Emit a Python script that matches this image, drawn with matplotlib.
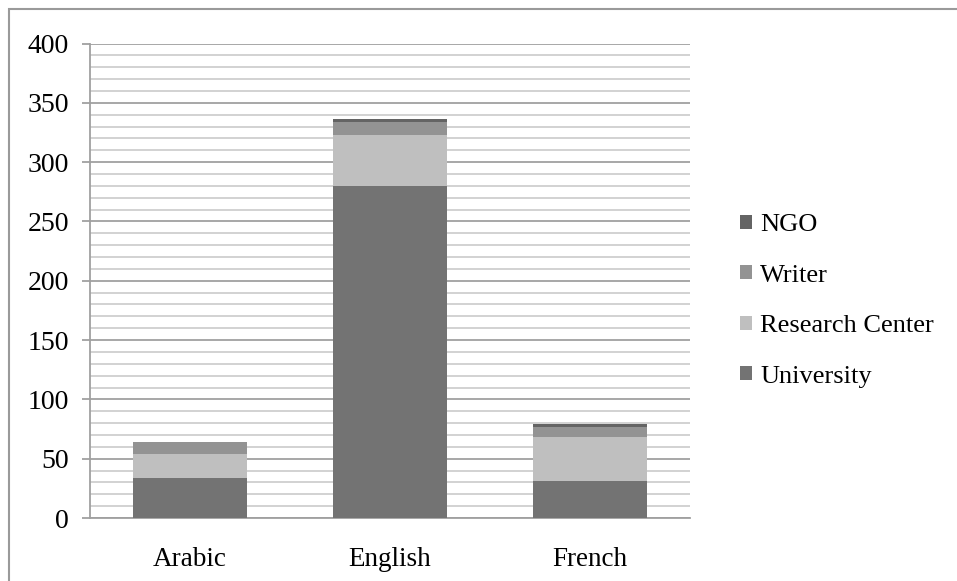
import matplotlib.pyplot as plt
import matplotlib.patches as mpatches
import numpy as np

languages = ['Arabic', 'English', 'French']
university = [34, 280, 31]
research_center = [20, 43, 37]
writer = [10, 11, 9]
ngo = [0, 2, 2]

series = ['University', 'Research Center', 'Writer', 'NGO']
colors = ['#737373', '#bfbfbf', '#939393', '#646464']

plt.rcParams['font.family'] = ['Liberation Serif', 'DejaVu Serif']

fig = plt.figure(figsize=(9.57, 5.81), dpi=100)
ax = fig.add_axes([90 / 957, 63 / 581, 600 / 957, 474.5 / 581])

x = np.arange(len(languages))
width = 0.57
bottom = np.zeros(len(languages))
handles = []
for name, vals, c in zip(series, [university, research_center, writer, ngo], colors):
    bars = ax.bar(x, vals, width, bottom=bottom, color=c, label=name, zorder=3)
    bottom += np.array(vals)
    handles.append(bars)

ax.set_xlim(-0.5, 2.5)
ax.set_ylim(0, 400)
ax.set_yticks(np.arange(0, 401, 50))
ax.set_yticks(np.arange(0, 401, 10), minor=True)
ax.grid(axis='y', which='major', color='#a0a0a0', linewidth=1.3, zorder=0)
ax.grid(axis='y', which='minor', color='#cfcfcf', linewidth=1.3, zorder=0)
ax.set_xticks(x, languages)

for s in ['top', 'right']:
    ax.spines[s].set_visible(False)
for s in ['left', 'bottom']:
    ax.spines[s].set_color('#a0a0a0')
    ax.spines[s].set_linewidth(1.3)

ax.tick_params(axis='y', which='major', length=6, width=1.3, color='#a0a0a0',
               labelsize=20, pad=9)
ax.tick_params(axis='y', which='minor', length=0)
ax.tick_params(axis='x', length=0, labelsize=19.5, pad=21)

# chart area border
fig.patches.append(mpatches.Rectangle((9 / 957, -0.1), 1.2, 1 - 9 / 581 + 0.1,
                                      transform=fig.transFigure, fill=False,
                                      edgecolor='#9a9a9a', linewidth=1.5))

ax.legend(handles[::-1], series[::-1], loc='center left',
          bbox_to_anchor=(740 / 957, 0.482), bbox_transform=fig.transFigure,
          frameon=False, fontsize=19, handlelength=0.46, handleheight=0.46,
          handletextpad=0.3, labelspacing=1.08, borderpad=0, borderaxespad=0)

fig.savefig('out.png', dpi=100)
